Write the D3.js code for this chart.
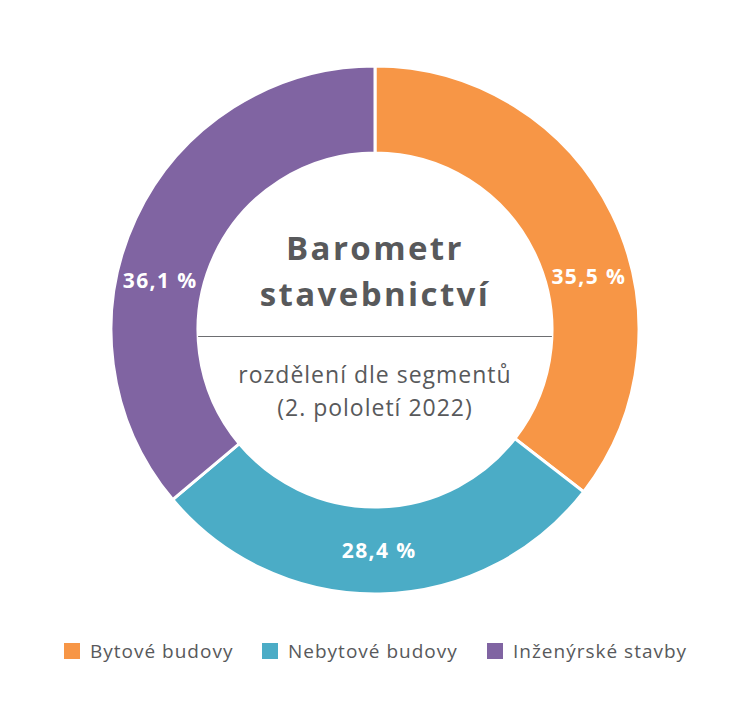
<!DOCTYPE html>
<html>
<head>
<meta charset="utf-8">
<script src="https://cdn.jsdelivr.net/npm/d3@7"></script>
<style>
    body { margin: 0; background: #fff; }
    svg { display: block; font-family: "Open Sans", sans-serif; }
</style>
</head>
<body>
<script>
// Data
var segments = ["Bytové budovy", "Nebytové budovy", "Inženýrské stavby"];
var shares = [35.5, 28.4, 36.1];
var colors = ["#F79646", "#4BACC6", "#8064A2"];
var titleLines = ["Barometr", "stavebnictví"];
var subtitleLines = ["rozdělení dle segmentů", "(2. pololetí 2022)"];

var width = 750, height = 718;
var cx = 375, cy = 330,
    outerR = 264, innerR = 177;

var svg = d3.select("body").append("svg")
    .attr("width", width)
    .attr("height", height);

var g = svg.append("g")
    .attr("transform", "translate(" + cx + "," + cy + ")");

var pie = d3.pie().sort(null).value(function(d) { return d; });
var arc = d3.arc().innerRadius(innerR).outerRadius(outerR);
var arcs = pie(shares);

// Donut slices with white separators
g.selectAll("path.slice")
    .data(arcs)
    .enter().append("path")
    .attr("class", "slice")
    .attr("d", arc)
    .attr("fill", function(d, i) { return colors[i]; })
    .attr("stroke", "#fff")
    .attr("stroke-width", 3);

// Value labels, nudged toward the horizontal on the side slices
var labelR = (innerR + outerR) / 2;
g.selectAll("text.value")
    .data(arcs)
    .enter().append("text")
    .attr("class", "value")
    .attr("transform", function(d) {
        var a = (d.startAngle + d.endAngle) / 2;
        if (Math.abs(Math.sin(a)) > 0.5) {
            a += (Math.sin(a) > 0 ? 1 : -1) * 12 * Math.PI / 180;
        }
        return "translate(" + (labelR * Math.sin(a)) + "," +
            (-labelR * Math.cos(a)) + ")";
    })
    .attr("text-anchor", "middle")
    .attr("dy", "0.36em")
    .attr("fill", "#fff")
    .attr("font-weight", 700)
    .attr("font-size", 21)
    .attr("letter-spacing", 1.4)
    .text(function(d) {
        return d3.format(".1f")(d.data).replace(".", ",") + " %";
    });

// Centre title
g.selectAll("text.title")
    .data(titleLines)
    .enter().append("text")
    .attr("class", "title")
    .attr("x", 0)
    .attr("y", function(d, i) { return -70 + i * 46; })
    .attr("text-anchor", "middle")
    .attr("fill", "#58595b")
    .attr("font-weight", 700)
    .attr("font-size", 33)
    .attr("letter-spacing", 2.4)
    .text(function(d) { return d; });

// Divider across the inner circle
var lineY = 6.5;
var halfW = Math.sqrt(innerR * innerR - lineY * lineY);
g.append("line")
    .attr("x1", -halfW)
    .attr("x2", halfW)
    .attr("y1", lineY)
    .attr("y2", lineY)
    .attr("stroke", "#6d6e71")
    .attr("stroke-width", 1.2);

g.selectAll("text.subtitle")
    .data(subtitleLines)
    .enter().append("text")
    .attr("class", "subtitle")
    .attr("x", 0)
    .attr("y", function(d, i) { return 53 + i * 33; })
    .attr("text-anchor", "middle")
    .attr("fill", "#58595b")
    .attr("font-size", 23)
    .attr("letter-spacing", 1)
    .text(function(d) { return d; });

// Legend
var legendX = [64, 262, 487];
var legend = svg.append("g")
    .attr("transform", "translate(0,643)");

var items = legend.selectAll("g.item")
    .data(segments)
    .enter().append("g")
    .attr("class", "item")
    .attr("transform", function(d, i) {
        return "translate(" + legendX[i] + ",0)";
    });

items.append("rect")
    .attr("width", 16)
    .attr("height", 16)
    .attr("fill", function(d, i) { return colors[i]; });

items.append("text")
    .attr("x", 26)
    .attr("y", 15)
    .attr("fill", "#58595b")
    .attr("font-size", 19)
    .attr("letter-spacing", 1)
    .text(function(d) { return d; });
</script>
</body>
</html>
